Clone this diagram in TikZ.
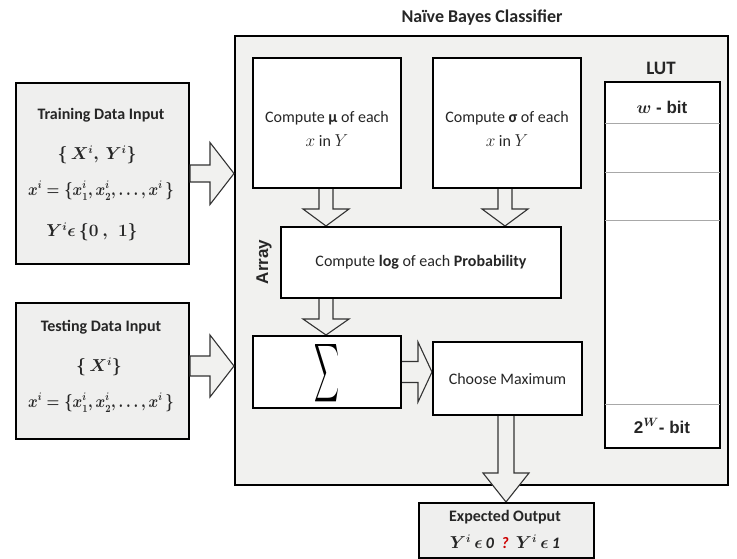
\documentclass[tikz,border=0pt]{standalone}
\usepackage{amsmath}
\usepackage{fontspec}
\setmainfont{Carlito}
\newfontfamily\arialfont{Liberation Sans}
\usepackage{graphicx}
\usetikzlibrary{calc}
\definecolor{bggray}{HTML}{F1F1EF}
\definecolor{boxgray}{HTML}{EFEFEE}
\definecolor{sepgray}{HTML}{A8A8A8}
\newcommand\rarrow[5]{%
  \filldraw[blockarrow] let \p1=(#1), \p2=(#2) in
  (\x1,\y1+#3) -- (\x2-#5,\y1+#3) -- (\x2-#5,\y1+#4) -- (\x2,\y1) --
  (\x2-#5,\y1-#4) -- (\x2-#5,\y1-#3) -- (\x1,\y1-#3) -- cycle;}
\newcommand\darrow[5]{%
  \filldraw[blockarrow] let \p1=(#1), \p2=(#2) in
  (\x1+#3,\y1) -- (\x1+#3,\y2+#5) -- (\x1+#4,\y2+#5) -- (\x1,\y2) --
  (\x1-#4,\y2+#5) -- (\x1-#3,\y2+#5) -- (\x1-#3,\y1) -- cycle;}
\newcommand\xset{\scalebox{0.85}[1]{$x^i=\{x^i_1,x^i_2,\ldots,x^i\,\}$}}
\begin{document}
\begin{tikzpicture}[x=1pt,y=-1pt,
  box/.style={draw=black,line width=2pt,fill=white,anchor=north west,inner sep=0pt},
  graybox/.style={box,fill=boxgray},
  blockarrow/.style={draw=black!80,line width=1.1pt,fill=bggray,line join=miter},
  ttl/.style={font=\bfseries\fontsize{16}{18}\selectfont,text=black!85,inner sep=0pt},
  aril/.style={font=\arialfont\bfseries\fontsize{15}{18}\selectfont,text=black!85,inner sep=0pt},
  txt/.style={font=\fontsize{16}{24}\selectfont,text=black!85,align=center,inner sep=0pt},
  mth/.style={font=\fontsize{16}{18}\selectfont\boldmath,text=black!85,inner sep=0pt}]
\useasboundingbox (0,0) rectangle (737,558);
% title
\node[ttl,font=\bfseries\fontsize{18}{20}\selectfont] (title) at (482,18) {Naïve Bayes Classifier};
% big container
\node[box,fill=bggray,minimum width=493pt,minimum height=449pt] (big) at (234,35) {};
% inputs
\node[graybox,minimum width=173pt,minimum height=181pt] (train) at (15,82) {};
\node[graybox,minimum width=173pt,minimum height=136pt] (test) at (15,302) {};
\node[ttl] (trt) at (101,115) {Training Data Input};
\node[mth] (tr1) at (97,155) {$\{\,X^i,\,Y^i\}$};
\node[mth] (tr2) at (101,191) {\xset};
\node[mth] (tr3) at (92,232) {$Y^i\epsilon\,\{0\ ,\ \,1\}$};
\node[ttl] (tet) at (101,327) {Testing Data Input};
\node[mth] (te1) at (99,367) {$\{\,X^i\}$};
\node[mth] (te2) at (101,403) {\xset};
% input arrows
\rarrow{train.east}{big.west}{8.5pt}{31pt}{24pt}
\rarrow{$(test.east)+(0,-5)$}{big.west}{10pt}{31pt}{24pt}
% inner arrows
\darrow{$(326,187)$}{$(326,226)$}{7pt}{23pt}{17pt}
\darrow{$(505,187)$}{$(505,226)$}{7pt}{23pt}{17pt}
\darrow{$(326,297)$}{$(326,335)$}{7pt}{23pt}{16pt}
\rarrow{$(400,372)$}{$(432,372)$}{10.5pt}{30pt}{14pt}
\darrow{$(506,414)$}{$(506,502)$}{8pt}{23pt}{29pt}
% inner boxes
\node[box,minimum width=148pt,minimum height=130pt] (mu) at (252,57) {};
\node[box,minimum width=148pt,minimum height=130pt] (sig) at (432,57) {};
\node[txt] (mut) at ($(mu.center)+(0,6)$) {Compute \textbf{μ} of each\\ $x$ in $Y$};
\node[txt] (sigt) at ($(sig.center)+(0,6)$) {Compute \textbf{σ} of each\\ $x$ in $Y$};
\node[box,minimum width=280pt,minimum height=71pt] (log) at (280,226) {};
\node[txt] (logt) at (log.center) {Compute \textbf{log} of each \textbf{Probability}};
\node[box,minimum width=148pt,minimum height=72pt] (sum) at (252,335) {};
\node[inner sep=0pt] (sumt) at ($(sum.center)+(0,1)$) {\resizebox{25pt}{43pt}{$\displaystyle\sum$}};
\node[box,minimum width=149pt,minimum height=73pt] (ch) at (432,341) {};
\node[txt] (cht) at (ch.center) {Choose Maximum};
\node[aril,rotate=90,font=\arialfont\bfseries\fontsize{17}{18}\selectfont] (arr) at (264,262) {Array};
% LUT
\node[ttl,font=\bfseries\fontsize{19}{20}\selectfont] (lutt) at (661,68) {LUT};
\node[box,minimum width=115pt,minimum height=366pt] (lut) at (604,81) {};
\foreach \yy/\nm in {42/la,91/lb,139/lc,323/ld}{
  \draw[sepgray,line width=1pt] ($(lut.north west)+(1,\yy)$) coordinate (\nm) -- ($(lut.north east)+(-1,\yy)$);
}
\node[aril] (w1) at (662,107) {\fontsize{17}{18}\selectfont$\boldsymbol{w}$ - bit};
\node[aril] (w2) at (662,426) {\fontsize{17}{18}\selectfont 2$^{\boldsymbol{W}}$- bit};
% output
\node[graybox,minimum width=175pt,minimum height=55pt] (out) at (418,502) {};
\node[ttl] (outt) at (505,517) {Expected Output};
\node[mth] (outm) at (505,542) {$Y^i\,\epsilon\,\textit{\textbf{0}}$\ \ \textcolor{red!80!black}{\textit{\textbf{?}}}\ \ $Y^i\,\epsilon\,\textit{\textbf{1}}$};
\end{tikzpicture}
\end{document}
